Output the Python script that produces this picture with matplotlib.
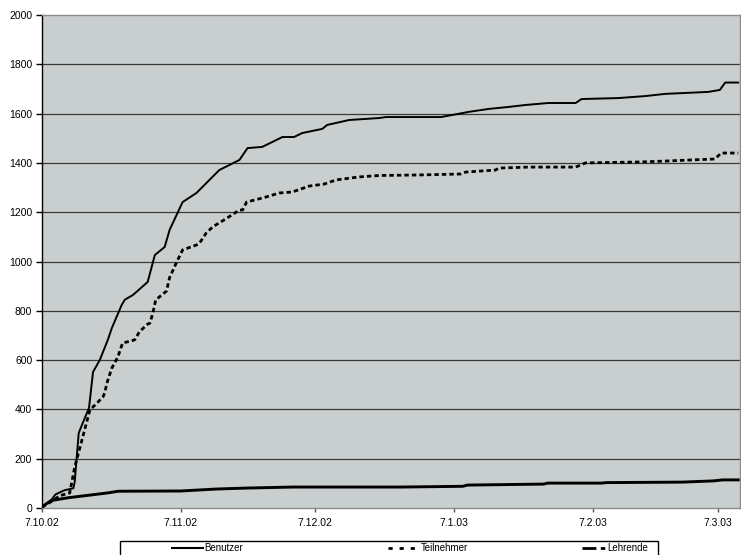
import datetime as dt
import matplotlib
matplotlib.use("Agg")
import matplotlib.pyplot as plt
from matplotlib.lines import Line2D
from matplotlib.patches import Rectangle

plt.rcParams['font.family'] = ['Liberation Sans', 'DejaVu Sans']

# Tage seit dem 7.10.02 und kumulierte Anzahl
start_date = dt.datetime(2002, 10, 7)

benutzer_days = [0, 2, 3, 5, 7, 7.3, 8.2, 9.1, 10.5, 11.4, 12.9, 14.7, 15.6, 17.8, 18.5,
                 20.3, 23.6, 25.2, 27.4, 28.5, 31.4, 34.5, 39.6, 44.1, 45.9, 49.2, 53.7,
                 56.3, 58.1, 62.6, 63.7, 68.6, 75.3, 76.8, 89.1, 92.7, 95.3, 99.8, 104.2,
                 108, 113.1, 119.2, 120.5, 128.7, 134.7, 139.2, 148.8, 151.4, 152.6, 155.5]
benutzer_vals = [5, 30, 55, 72, 80, 105, 304, 345, 406, 552, 600, 682, 730, 824, 845,
                 864, 917, 1026, 1059, 1128, 1241, 1278, 1371, 1412, 1460, 1465, 1505,
                 1505, 1521, 1538, 1554, 1574, 1582, 1586, 1586, 1598, 1607, 1619, 1627,
                 1635, 1643, 1643, 1659, 1663, 1671, 1680, 1688, 1696, 1726, 1726]

teilnehmer_days = [0, 2, 4, 6.2, 7.3, 8.5, 10.7, 11.4, 13.6, 14, 14.5, 15.6, 16.9, 18,
                   20.7, 21.8, 23.6, 24.1, 24.7, 25.4, 27.8, 28.5, 30.3, 31.4, 34.5, 35.2,
                   36.7, 38.1, 41.4, 44.1, 44.8, 45.7, 50.1, 53, 55.9, 59.7, 63, 65.7,
                   70.8, 75.3, 84.2, 93.5, 94.7, 101.3, 102, 108.7, 119.2, 121.4, 133.9,
                   139.9, 150.3, 151.7, 155.5]
teilnehmer_vals = [3, 25, 50, 61, 166, 247, 398, 410, 450, 467, 507, 568, 611, 669,
                   682, 716, 746, 750, 787, 844, 880, 935, 1006, 1047, 1067, 1075,
                   1116, 1140, 1177, 1209, 1209, 1241, 1262, 1278, 1282, 1306, 1314, 1331,
                   1343, 1349, 1351, 1355, 1363, 1371, 1379, 1383, 1383, 1400, 1404,
                   1408, 1416, 1440, 1440]

lehrende_days = [0, 2, 6, 11, 15, 17, 31, 39, 46, 56, 80, 94, 95, 112, 113, 125, 126,
                 143, 150, 152, 155.5]
lehrende_vals = [5, 30, 42, 53, 62, 68, 69, 77, 81, 85, 85, 88, 93, 97, 101, 101, 103,
                 105, 110, 114, 114]

tick_dates = [dt.datetime(2002, 10, 7), dt.datetime(2002, 11, 7), dt.datetime(2002, 12, 7),
              dt.datetime(2003, 1, 7), dt.datetime(2003, 2, 7), dt.datetime(2003, 3, 7)]
tick_labels = ['7.10.02', '7.11.02', '7.12.02', '7.1.03', '7.2.03', '7.3.03']
y_ticks = list(range(0, 2001, 200))

series_names = ['Benutzer', 'Teilnehmer', 'Lehrende']


def to_dates(days):
    return [start_date + dt.timedelta(days=d) for d in days]


W, H = 741, 555
fig = plt.figure(figsize=(W / 100, H / 100), dpi=100)
ax = fig.add_axes([42 / W, 47 / H, 698 / W, 493 / H])
ax.set_facecolor('#c9cfcf')

# Gitternetz
for yv in y_ticks[1:-1]:
    ax.axhline(yv, color='#3a3a3a', lw=0.9, zorder=1)

ax.plot(to_dates(benutzer_days), benutzer_vals, color='black', lw=1.4, zorder=3)
tn, = ax.plot(to_dates(teilnehmer_days), teilnehmer_vals, color='black', lw=2.0, zorder=3)
tn.set_dashes([1.6, 1.1])
ax.plot(to_dates(lehrende_days), lehrende_vals, color='black', lw=2.1, zorder=3)

ax.set_xlim(start_date, start_date + dt.timedelta(days=155.9))
ax.set_ylim(0, 2000)
ax.set_yticks(y_ticks)
ax.set_yticklabels([str(v) for v in y_ticks], fontsize=7.5)
ax.set_xticks(tick_dates)
ax.set_xticklabels(tick_labels, fontsize=7.5)
ax.tick_params(axis='y', direction='out', length=4, width=1, color='black', pad=3)
ax.tick_params(axis='x', direction='out', length=3, width=1, color='#555555', pad=4)

for side in ['top', 'right', 'bottom']:
    ax.spines[side].set_color('#8c8c8c')
    ax.spines[side].set_linewidth(1)
ax.spines['left'].set_color('black')
ax.spines['left'].set_linewidth(1)

# Legende
def fx(px):
    return px / W


def fy(py):
    return 1 - py / H


fig.add_artist(Rectangle((fx(120), fy(562)), fx(658) - fx(120), fy(541) - fy(562),
                         transform=fig.transFigure, fill=True, facecolor='white',
                         edgecolor='black', lw=1))
ly = fy(548)
fig.add_artist(Line2D([fx(172), fx(203)], [ly, ly], transform=fig.transFigure,
                      color='black', lw=1.5))
l2 = Line2D([fx(388), fx(420)], [ly, ly], transform=fig.transFigure, color='black', lw=2)
l2.set_dashes([1.5, 2.5])
fig.add_artist(l2)
l3 = Line2D([fx(582), fx(606)], [ly, ly], transform=fig.transFigure, color='black', lw=2)
l3.set_dashes([5, 1.6, 1.6, 6])
fig.add_artist(l3)
for px, name in zip([204, 421, 607], series_names):
    fig.text(fx(px), ly, name, fontsize=7, va='center', ha='left')

fig.savefig('out.png', dpi=100)
